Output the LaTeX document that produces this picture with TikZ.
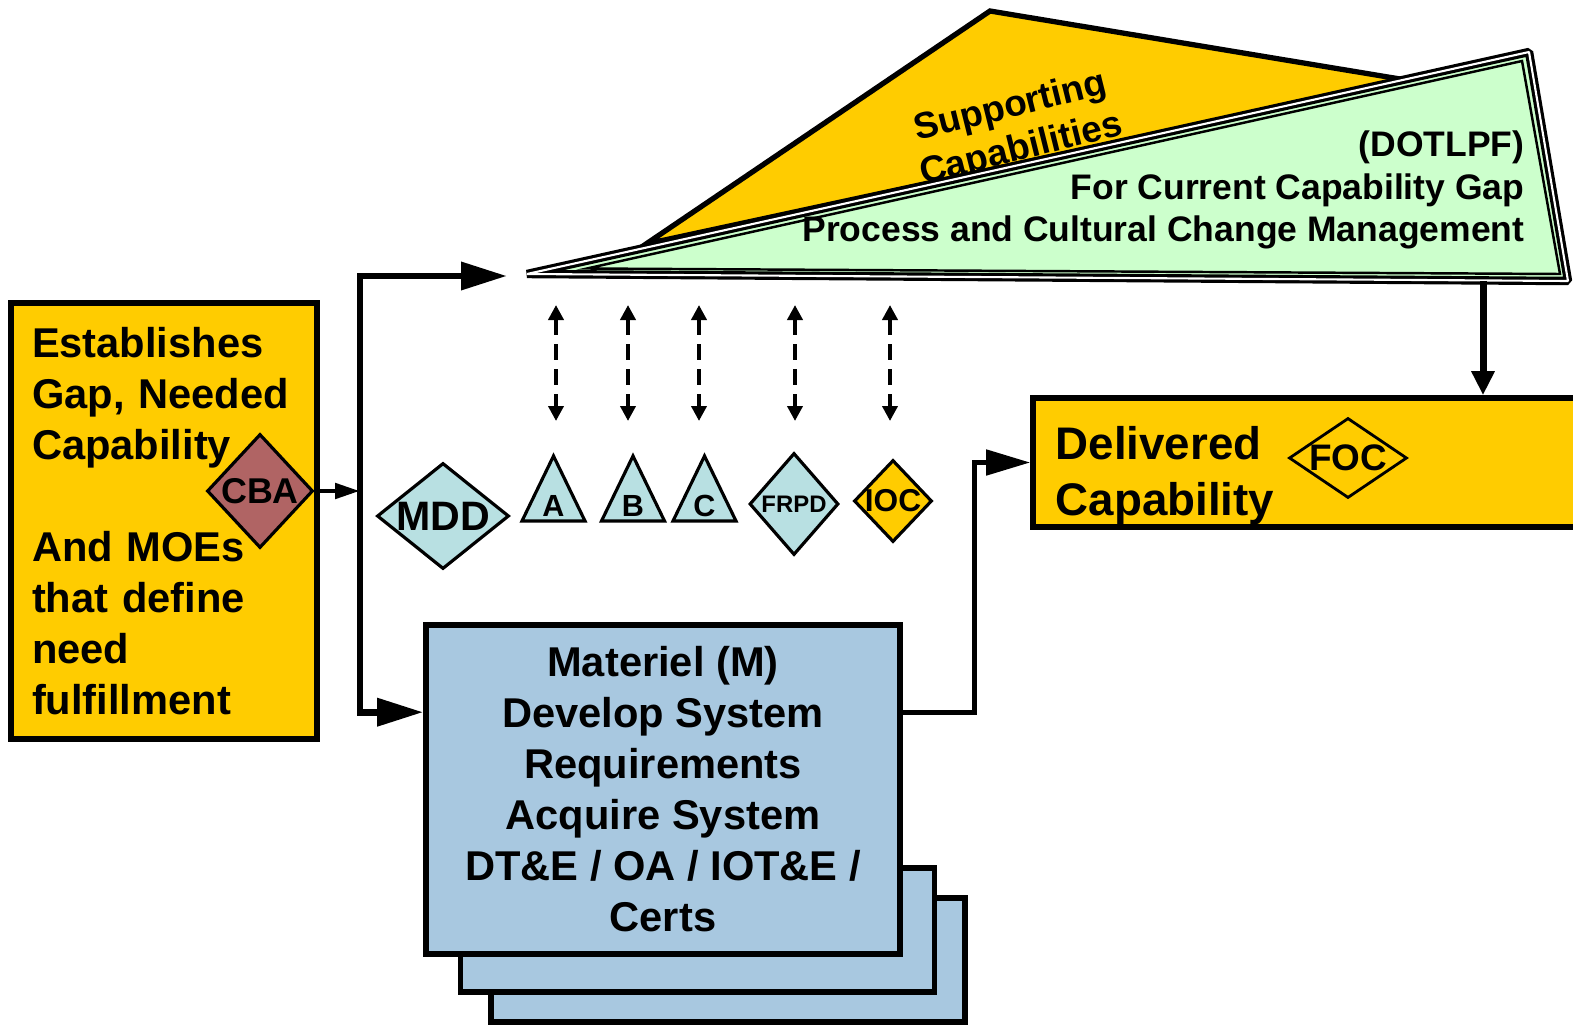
\documentclass[tikz,border=0pt]{standalone}
\usepackage{fontspec}
\setmainfont{Liberation Sans}
\usepackage{tikz}
\usetikzlibrary{arrows.meta,positioning,calc,shapes.geometric}
\definecolor{capgold}{RGB}{255,204,0}
\definecolor{msblue}{RGB}{184,224,226}
\definecolor{cbared}{RGB}{176,100,100}
\definecolor{matblue}{RGB}{168,200,224}
\definecolor{dotgreen}{RGB}{204,255,204}

\begin{document}
\begin{tikzpicture}[
  font=\bfseries,
  box/.style    = {draw=black, line width=1.6pt, inner sep=0pt},
  gapbox/.style = {box, fill=capgold, minimum width=3.06cm, minimum height=4.36cm,
                   text width=2.64cm, align=left,
                   font=\bfseries\fontsize{11.85}{14.5}\selectfont},
  matbox/.style = {box, fill=matblue, minimum width=4.74cm, minimum height=3.29cm,
                   align=center, font=\bfseries\fontsize{11.85}{14.5}\selectfont},
  delbox/.style = {box, fill=capgold, minimum width=5.70cm, minimum height=1.29cm},
  ms/.style     = {diamond, draw=black, line width=0.9pt, fill=msblue, inner sep=0pt},
  mstri/.style  = {draw=black, line width=0.9pt, fill=msblue, line join=miter},
  mslbl/.style  = {inner sep=0pt, font=\bfseries\fontsize{8.7}{10}\selectfont},
  flow/.style   = {-{Triangle[length=4.6mm, width=2.7mm]}, line width=1.9pt},
  flowsm/.style = {-{Triangle[length=2.5mm, width=1.5mm]}, line width=1.4pt},
  flowdn/.style = {-{Triangle[length=2.4mm, width=2.2mm]}, line width=2pt},
  flowmd/.style = {-{Triangle[length=4.4mm, width=2.5mm]}, line width=1.4pt},
  linkarr/.style= {{Triangle[length=1.5mm, width=1.5mm]}-{Triangle[length=1.5mm, width=1.5mm]},
                   line width=1.3pt, dash pattern=on 1.6mm off 0.9mm}
]
\useasboundingbox (0,0) rectangle (15.73,-10.28);

%%%%%%%%%%%%%%%%%%%%%%% SUPPORTING / DOTLPF WEDGES %%%%%%%%%%%%%%%%%%%%%%%%%%%%
\draw[fill=capgold, line width=1.5pt, line join=miter]
      (6.46,-2.44) -- (9.90,-0.11) -- (14.06,-0.80) -- cycle;
\node[rotate=14, align=center, font=\bfseries\fontsize{10.5}{12.4}\selectfont]
      (supp) at (10.16,-1.29) {Supporting\\Capabilities};

\draw[fill=dotgreen, draw=black, double=white, line width=0.9pt,
      double distance=0.6pt, line join=bevel]
      (5.27,-2.74) -- (15.29,-0.52) -- (15.68,-2.81) -- cycle;
\draw[line width=0.7pt, line join=miter]
      (5.87,-2.685) -- (15.22,-0.61) -- (15.60,-2.74) -- cycle;
\node[anchor=east, align=right, inner sep=0pt,
      font=\bfseries\fontsize{10.1}{12.1}\selectfont] (dotl) at (15.25,-1.90)
      {(DOTLPF)\\For Current Capability Gap\\Process and Cultural Change Management};
\coordinate (dotfoot) at (14.83,-2.81);

%%%%%%%%%%%%%%%%%%%%%%% MILESTONES %%%%%%%%%%%%%%%%%%%%%%%%%%%%%%%%%%%%%%%%%%%
\foreach \x [count=\i] in {5.56,6.28,6.99,7.95,8.90} {
  \coordinate (up\i) at (\x,-3.05);
  \coordinate (dn\i) at (\x,-4.21);
  \draw[linkarr] (up\i) -- (dn\i);
}

\node[ms, minimum width=1.32cm, minimum height=1.06cm, aspect=1.245,
      font=\bfseries\fontsize{11.7}{13}\selectfont] (mdd) at (4.43,-5.16) {MDD};

\foreach \n/\x in {A/5.535,B/6.33,C/7.045} {
  \draw[mstri] (\x,-4.56) -- (\x-0.315,-5.21) -- (\x+0.315,-5.21) -- cycle;
  \node[mslbl] (ms\n) at (\x,-5.06) {\n};
}

\node[ms, minimum width=0.89cm, minimum height=1.02cm, aspect=0.873,
      font=\bfseries\fontsize{6.8}{8}\selectfont] (frpd) at (7.94,-5.04) {FRPD};
\node[ms, fill=capgold, minimum width=0.78cm, minimum height=0.82cm, aspect=0.95,
      font=\bfseries\fontsize{9}{10}\selectfont] (ioc) at (8.93,-5.01) {IOC};

%%%%%%%%%%%%%%%%%%%%%%% CAPABILITY GAP %%%%%%%%%%%%%%%%%%%%%%%%%%%%%%%%%%%%%%%
\node[gapbox] (gap) at (1.64,-5.21)
      {Establishes\\Gap, Needed\\Capability\\[14.5pt]And MOEs\\that define\\need\\fulfillment};
\node[ms, fill=cbared, minimum width=1.06cm, minimum height=1.14cm, aspect=0.93,
      font=\bfseries\fontsize{10.2}{12}\selectfont] (cba) at (2.60,-4.91) {CBA};

%%%%%%%%%%%%%%%%%%%%%%% MATERIEL %%%%%%%%%%%%%%%%%%%%%%%%%%%%%%%%%%%%%%%%%%%%%
\node[matbox, minimum height=1.24cm] (mat3) at (7.28,-9.60) {};
\node[matbox, minimum height=1.24cm] (mat2) at (6.975,-9.30) {};
\node[matbox] (mat) at (6.63,-7.895)
      {Materiel (M)\\Develop System\\Requirements\\Acquire System\\
       DT\&E / OA / IOT\&E /\\Certs};

%%%%%%%%%%%%%%%%%%%%%%% DELIVERED %%%%%%%%%%%%%%%%%%%%%%%%%%%%%%%%%%%%%%%%%%%%
\node[delbox] (deliv) at (13.18,-4.625) {};
\node[anchor=north west, align=left, inner sep=0pt,
      font=\bfseries\fontsize{13}{15.9}\selectfont] (dlab) at (10.55,-4.26)
      {Delivered\\Capability};
\node[diamond, draw=black, line width=0.8pt, inner sep=0pt, minimum width=1.18cm,
      minimum height=0.80cm, aspect=1.475,
      font=\bfseries\fontsize{10.5}{12}\selectfont] (foc) at (13.48,-4.58) {FOC};

%%%%%%%%%%%%%%%%%%%%%%% FLOWS %%%%%%%%%%%%%%%%%%%%%%%%%%%%%%%%%%%%%%%%%%%%%%%%
\coordinate (split) at (3.60,-4.91);
\coordinate (tip) at (5.07,-2.76);
\draw[flowsm] (cba.east) -- (cba.east -| split);
\draw[flow] (split) |- (tip);
\draw[flow] (split) |- ([yshift=-0.90cm]mat.north west);
\draw[flowmd] ([yshift=-0.90cm]mat.north east) -- ++(0.72,0) |- (deliv.west);
\draw[flowdn] (dotfoot) -- (dotfoot |- deliv.north);

\end{tikzpicture}
\end{document}
